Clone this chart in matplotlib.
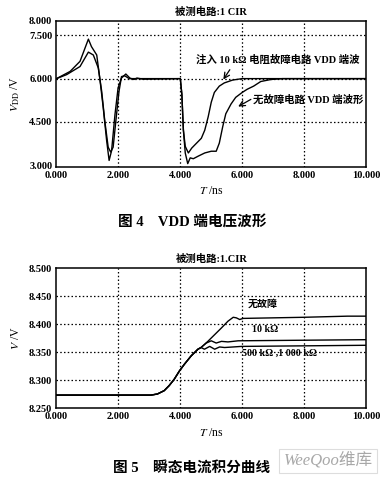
import numpy as np
import matplotlib.pyplot as plt

plt.rcParams['font.family'] = ['Liberation Serif', 'Noto Sans CJK SC']
plt.rcParams['mathtext.fontset'] = 'stix'

# fig 4: VDD voltage waveforms (ns, V)
t_normal = [0, 0.44, 0.76, 1.03, 1.13, 1.3, 1.4, 1.51, 1.62, 1.7, 1.78, 1.89, 1.99, 2.1,
            2.24, 2.37, 2.5, 2.6, 2.8, 4.0, 4.05, 4.1, 4.16, 4.24, 4.32, 4.42, 4.58, 4.79,
            5.0, 5.16, 5.26, 5.37, 5.47, 5.64, 5.79, 6.0, 6.16, 6.37, 6.6, 6.93, 7.3, 10.0]
v_normal = [6.0, 6.25, 6.6, 7.37, 7.11, 6.82, 6.0, 4.99, 3.85, 3.16, 3.5, 4.76, 5.68, 6.02,
            6.16, 6.02, 5.97, 6.02, 5.98, 6.0, 5.46, 4.21, 3.42, 3.05, 3.25, 3.22, 3.31, 3.42,
            3.48, 3.48, 3.76, 4.33, 4.78, 5.12, 5.35, 5.52, 5.63, 5.74, 5.9, 5.97, 6.0, 6.0]

t_fault = [0, 0.33, 0.76, 1.03, 1.19, 1.35, 1.46, 1.56, 1.67, 1.75, 1.83, 1.94, 2.02, 2.1,
           2.2, 2.35, 2.6, 4.0, 4.05, 4.1, 4.16, 4.26, 4.37, 4.47, 4.58, 4.68, 4.79, 4.9,
           5.0, 5.1, 5.26, 5.42, 5.69, 6.0, 10.0]
v_fault = [6.0, 6.14, 6.42, 6.92, 6.82, 6.37, 5.56, 4.53, 3.62, 3.45, 3.62, 4.76, 5.56, 6.07,
           6.1, 6.0, 6.0, 6.0, 5.46, 4.21, 3.65, 3.42, 3.59, 3.7, 3.82, 3.93, 4.21, 4.67,
           5.18, 5.52, 5.74, 5.85, 5.95, 6.0, 6.0]

# fig 5: transient current integral
ramp_t = [0, 3.05, 3.26, 3.48, 3.64, 3.8, 3.97, 4.13, 4.35, 4.57, 4.67]
ramp_v = [8.273, 8.273, 8.275, 8.281, 8.29, 8.301, 8.316, 8.328, 8.343, 8.355, 8.358]
nf_t = [4.89, 5.11, 5.33, 5.54, 5.71, 5.81, 5.92, 6.03, 8.0, 9.4, 10.0]
nf_v = [8.369, 8.381, 8.393, 8.405, 8.412, 8.411, 8.408, 8.41, 8.412, 8.414, 8.414]
k10_t = [4.84, 5.0, 5.16, 5.33, 5.54, 5.87, 10.0]
k10_v = [8.366, 8.37, 8.366, 8.369, 8.368, 8.37, 8.372]
k500_t = [4.78, 4.95, 5.11, 5.27, 5.43, 5.71, 5.98, 10.0]
k500_v = [8.355, 8.36, 8.355, 8.359, 8.358, 8.359, 8.36, 8.362]

xticks = [0, 2, 4, 6, 8, 10]
yticks1 = [3.0, 4.5, 6.0, 7.5, 8.0]
yticks2 = [8.25, 8.30, 8.35, 8.40, 8.45, 8.50]

W, H = 383, 479
fig = plt.figure(figsize=(W / 100, H / 100), dpi=100)
ax1 = fig.add_axes([56.5 / W, 1 - 166.5 / H, 309.5 / W, 145.5 / H])
ax2 = fig.add_axes([56.5 / W, 1 - 408 / H, 309.5 / W, 140 / H])

def style(ax, yt, grid_y):
    ax.set_xlim(0, 10)
    ax.set_xticks(xticks)
    ax.set_xticklabels(['%.3f' % x for x in xticks], fontsize=7.5, fontweight='bold')
    ax.set_yticks(yt)
    ax.set_yticklabels(['%.3f' % y for y in yt], fontsize=7.5, fontweight='bold')
    ax.tick_params(length=0, pad=3)
    for s in ax.spines.values():
        s.set_linewidth(1.1)
    for x in [2, 4, 6, 8]:
        ax.axvline(x, color='k', ls=(0, (1.2, 1.8)), lw=0.9, zorder=1)
    for y in grid_y:
        ax.axhline(y, color='k', ls=(0, (1.2, 1.8)), lw=0.9, zorder=1)
    ax.set_xlabel('$T$ /ns', fontsize=8.5, labelpad=4)

style(ax1, yticks1, [4.5, 6.0, 7.5])
ax1.set_ylim(2.95, 8.0)
ax1.plot(t_normal, v_normal, color='k', lw=1.0, zorder=3)
ax1.plot(t_fault, v_fault, color='k', lw=1.0, zorder=3)
ax1.set_title('被测电路:1 CIR', fontsize=7.5, fontweight='bold', pad=4)
ax1.set_ylabel('$V_{\\mathrm{DD}}$ /V', fontsize=8.5, labelpad=5)
ax1.text(4.5, 6.65, '注入 10 kΩ 电阻故障电路 VDD 端波', fontsize=7.5, fontweight='bold',
         ha='left', va='center')
ax1.annotate('', xy=(5.39, 5.97), xytext=(5.6, 6.31),
             arrowprops=dict(arrowstyle='->', color='k', lw=0.9, shrinkA=0, shrinkB=0))
ax1.text(6.34, 5.28, '无故障电路 VDD 端波形', fontsize=7.5, fontweight='bold',
         ha='left', va='center')
ax1.annotate('', xy=(5.87, 5.03), xytext=(6.28, 5.28),
             arrowprops=dict(arrowstyle='->', color='k', lw=0.9, shrinkA=0, shrinkB=0))

style(ax2, yticks2, [8.30, 8.35, 8.40, 8.45])
ax2.set_ylim(8.25, 8.5)
for bt, bv in [(nf_t, nf_v), (k10_t, k10_v), (k500_t, k500_v)]:
    ax2.plot(ramp_t + bt, ramp_v + bv, color='k', lw=1.0, zorder=3)
ax2.set_title('被测电路:1.CIR', fontsize=7.5, fontweight='bold', pad=4)
ax2.set_ylabel('$V$ /V', fontsize=8.5, labelpad=5)
ax2.text(6.67, 8.436, '无故障', fontsize=7.2, fontweight='bold', ha='center', va='center')
ax2.text(6.74, 8.391, '10 kΩ', fontsize=7.2, fontweight='bold', ha='center', va='center')
ax2.text(5.98, 8.348, '500 kΩ ,1 000 kΩ', fontsize=7.2, fontweight='bold', ha='left', va='center')

fig.text(192 / W, 1 - 223 / H, '图 4    VDD 端电压波形', fontsize=10.5, fontweight='bold',
         ha='center', va='center')
fig.text(192 / W, 1 - 468 / H, '图 5    瞬态电流积分曲线', fontsize=10.5, fontweight='bold',
         ha='center', va='center')
fig.text(328 / W, 1 - 461 / H, 'WeeQoo维库', fontsize=12, color='#a8a8a8', style='italic',
         ha='center', va='center',
         bbox=dict(boxstyle='square,pad=0.25', fc='white', ec='#dddddd', lw=0.8))

fig.savefig('out.png', dpi=100)
